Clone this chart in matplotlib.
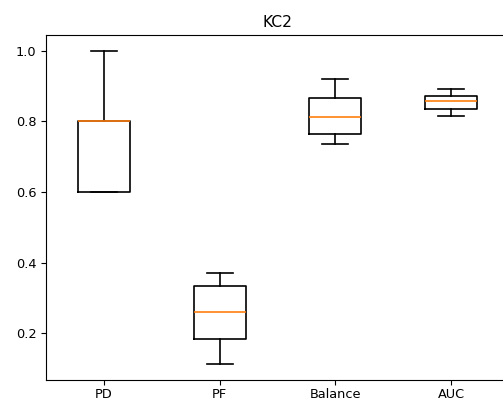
import matplotlib as mpl
import matplotlib.pyplot as plt

mpl.use("Agg")

# Box statistics: low whisker, Q1, median, Q3, high whisker
categories = ["PD", "PF", "Balance", "AUC"]
pd_values = [0.60, 0.60, 0.80, 0.80, 1.00]
pf_values = [0.112, 0.185, 0.259, 0.333, 0.370]
balance_values = [0.737, 0.764, 0.813, 0.866, 0.920]
auc_values = [0.815, 0.836, 0.857, 0.872, 0.891]

plt.rcParams["font.size"] = 9.3

fig = plt.figure(figsize=(5.03, 4.01), dpi=100)
# The original figure is cropped on the right, so the axes run past the edge
ax = fig.add_axes([46 / 503, 21 / 401, 463 / 503, 345 / 401])

ax.boxplot(
    [pd_values, pf_values, balance_values, auc_values],
    tick_labels=categories,
    boxprops={"linewidth": 1.2},
    whiskerprops={"linewidth": 1.2},
    capprops={"linewidth": 1.2},
    medianprops={"color": "#ff7f0e", "linewidth": 1.2},
)
ax.tick_params(axis="x", pad=2)
ax.set_title("KC2")

fig.savefig("out.png", dpi=100)
plt.close(fig)
